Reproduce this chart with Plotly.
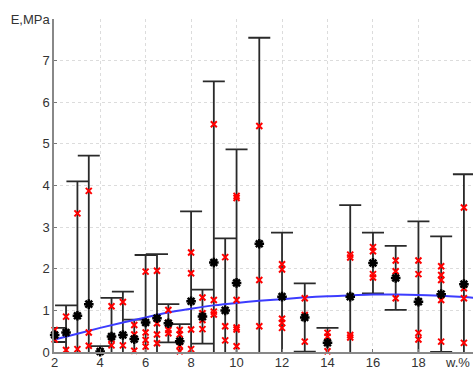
import plotly.graph_objects as go

# ---- data ----
w_groups = [2, 2.5, 3, 3.5, 4, 4.5, 5, 5.5, 6, 6.5, 7, 7.5, 8, 8.5, 9, 9.5, 10,
            11, 12, 13, 14, 15, 16, 17, 18, 19, 20]
E_mean = [0.41, 0.47, 0.87, 1.15, 0.01, 0.37, 0.41, 0.31, 0.71, 0.81, 0.69, 0.26,
          1.22, 0.85, 2.15, 1.00, 1.66, 2.60, 1.33, 0.83, 0.22, 1.33, 2.14, 1.78,
          1.21, 1.39, 1.63]
E_err = [0.17, 0.65, 3.23, 3.57, 0.13, 0.93, 1.04, 0.47, 1.62, 1.54, 0.46, 0.41,
         2.16, 0.65, 4.35, 1.73, 3.21, 4.95, 1.54, 0.82, 0.36, 2.20, 0.73, 0.77,
         1.93, 1.39, 2.64]
E_points = [
    [0.53, 0.30],
    [0.85, 0.05],
    [3.33, 0.07],
    [3.87, 0.47, 0.15],
    [0.02],
    [1.10, 0.30, 0.16],
    [1.20, 0.16],
    [0.65, 0.42, 0.03],
    [1.93, 0.47, 0.29, 0.13],
    [1.95, 0.69, 0.42, 0.21],
    [1.01, 0.70, 0.53, 0.45],
    [0.53, 0.42, 0.15, 0.02],
    [2.39, 1.89, 0.54, 0.07],
    [1.31, 0.93, 0.77, 0.55],
    [5.47, 1.25, 0.97, 0.90],
    [2.28, 0.62, 0.28],
    [3.75, 3.70, 1.25, 0.59, 0.54, 0.14],
    [5.43, 1.73, 0.62],
    [2.11, 1.98, 0.80, 0.70, 0.58],
    [1.29, 0.89, 0.25],
    [0.46, 0.37, 0.02],
    [2.34, 2.27, 0.41, 0.35],
    [2.52, 2.42, 1.87, 1.79],
    [2.20, 1.94, 1.29],
    [2.20, 1.87, 0.46, 0.30],
    [2.06, 1.85, 1.73, 1.25, 0.25],
    [3.47, 1.53, 1.29, 0.22],
]
fit_w = [2, 3, 4, 5, 6, 7, 8, 9, 10, 11, 12, 13, 14, 15, 16, 17, 18, 19, 20, 20.5]
fit_E = [0.30, 0.44, 0.58, 0.71, 0.83, 0.95, 1.04, 1.12, 1.18, 1.23, 1.27, 1.31,
         1.34, 1.36, 1.38, 1.38, 1.37, 1.35, 1.32, 1.30]

x_ticks = [2, 4, 6, 8, 10, 12, 14, 16, 18]
y_ticks = [0, 1, 2, 3, 4, 5, 6, 7, 8]
y_ticktext = ["0", "1", "2", "3", "4", "5", "6", "7", "E,MPa"]

# flatten individual points
px_w, px_E = [], []
for w, pts in zip(w_groups, E_points):
    for e in pts:
        px_w.append(w)
        px_E.append(e)

fig = go.Figure()
fig.add_trace(go.Scatter(
    x=w_groups, y=E_mean, mode="markers",
    marker=dict(size=1, color="rgba(0,0,0,0)"),
    error_y=dict(type="data", array=E_err, symmetric=True,
                 color="#2a2a2a", thickness=1.8, width=11),
    showlegend=False, hoverinfo="skip"))
fig.add_trace(go.Scatter(
    x=fit_w, y=fit_E, mode="lines", line=dict(color="rgb(60,60,255)", width=2, shape="spline"),
    showlegend=False))
fig.add_trace(go.Scatter(
    x=px_w, y=px_E, mode="markers", cliponaxis=False,
    marker=dict(symbol="x-thin-open", size=6, color="red", line=dict(color="red", width=2)),
    showlegend=False))
fig.add_trace(go.Scatter(
    x=w_groups, y=E_mean, mode="markers", cliponaxis=False,
    marker=dict(symbol="asterisk-open", size=8, color="black", line=dict(color="black", width=2.5)),
    showlegend=False))

font = dict(family="Liberation Sans, Arial, sans-serif", size=13, color="#333333")
fig.update_layout(
    width=473, height=367,
    margin=dict(l=54, r=0, t=19, b=15, autoexpand=False),
    paper_bgcolor="white", plot_bgcolor="white",
    font=font,
    xaxis=dict(range=[1.97, 20.4], tickvals=x_ticks, ticks="inside", ticklen=3,
               tickcolor="#777", showline=True, linecolor="#888", linewidth=1.5,
               showgrid=True, gridcolor="#dcdcdc", griddash="dot", gridwidth=1,
               zeroline=False, tickfont=font, automargin=False, ticklabelstandoff=-2),
    yaxis=dict(range=[0, 8], tickvals=y_ticks, ticktext=y_ticktext, ticks="inside",
               ticklen=3, tickcolor="#777", showline=True, linecolor="#888", linewidth=1.5,
               showgrid=True, gridcolor="#dcdcdc", griddash="dot", gridwidth=1,
               zeroline=False, tickfont=font, automargin=False),
    annotations=[dict(text="w,%", xref="paper", yref="paper", x=0.962, y=0,
                      xanchor="center", yanchor="top", yshift=-1, showarrow=False, font=font)],
)
fig.write_html("out.html", config={"displayModeBar": False},
               post_script="document.body.style.margin='0';document.body.style.padding='0';"
                           "document.documentElement.style.overflow='hidden';")
